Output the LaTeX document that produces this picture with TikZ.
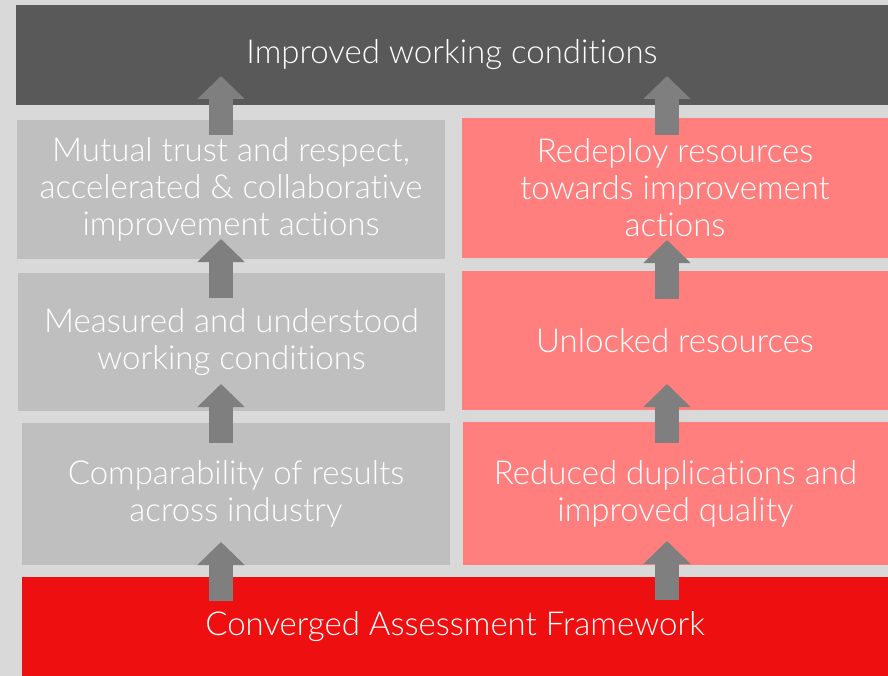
\documentclass[tikz,border=0pt]{standalone}
\usepackage{fontspec}
\setmainfont{Lato}[UprightFont={* Light},Ligatures=NoCommon]
\usetikzlibrary{arrows.meta}

\definecolor{pagegray}{HTML}{D9D9D9}
\definecolor{topgray}{HTML}{595959}
\definecolor{boxgray}{HTML}{BFBFBF}
\definecolor{boxpink}{HTML}{FF7F7F}
\definecolor{basered}{HTML}{EE1010}
\definecolor{arrowgray}{HTML}{7F7F7F}

\begin{document}
\begin{tikzpicture}[x=1pt,y=-1pt,
    card/.style={inner sep=0,align=center,text=white,font=\boxfontsize},
    uparrow/.style={arrowgray,line width=24pt,-{Triangle[width=46pt,length=23pt]}}]
    \pgfmathsetmacro{\pagewidth}{888}
    \pgfmathsetmacro{\pageheight}{676}
    \pgfmathsetmacro{\arrowlength}{59}
    \providecommand{\boxfontsize}{\fontsize{33pt}{37pt}\selectfont}
    \useasboundingbox (0,0) rectangle (\pagewidth,\pageheight);
    \fill[pagegray] (0,0) rectangle (\pagewidth,\pageheight);
    % top and bottom bars
    \node[card,fill=topgray,minimum width=872pt,minimum height=100pt] (improved) at (452,55) {Improved working conditions};
    \node[card,fill=basered,minimum width=866pt,minimum height=99pt] (framework) at (455,626.5) {Converged Assessment Framework};
    % left column
    \node[card,fill=boxgray,minimum width=428pt,minimum height=139pt] (trust) at (231,189.5) {Mutual trust and respect,\\accelerated \& collaborative\\improvement actions};
    \node[card,fill=boxgray,minimum width=427pt,minimum height=138pt] (measured) at (231.5,342) {Measured and understood\\working conditions};
    \node[card,fill=boxgray,minimum width=428pt,minimum height=142pt] (comparability) at (236,494) {Comparability of results\\across industry};
    % right column
    \node[card,fill=boxpink,minimum width=426pt,minimum height=140pt] (redeploy) at (675,188) {Redeploy resources\\towards improvement\\actions};
    \node[card,fill=boxpink,minimum width=426pt,minimum height=139pt] (unlocked) at (675,340.5) {Unlocked resources};
    \node[card,fill=boxpink,minimum width=425pt,minimum height=143pt] (reduced) at (675.5,493.5) {Reduced duplications and\\improved quality};
    % arrows
    \foreach \ax/\ay in {221/135,221/298,221/443,221/601,667/135,667/299,667/443,667/600}
        \draw[uparrow] (\ax,\ay) -- ++(0,-\arrowlength);
\end{tikzpicture}
\end{document}
